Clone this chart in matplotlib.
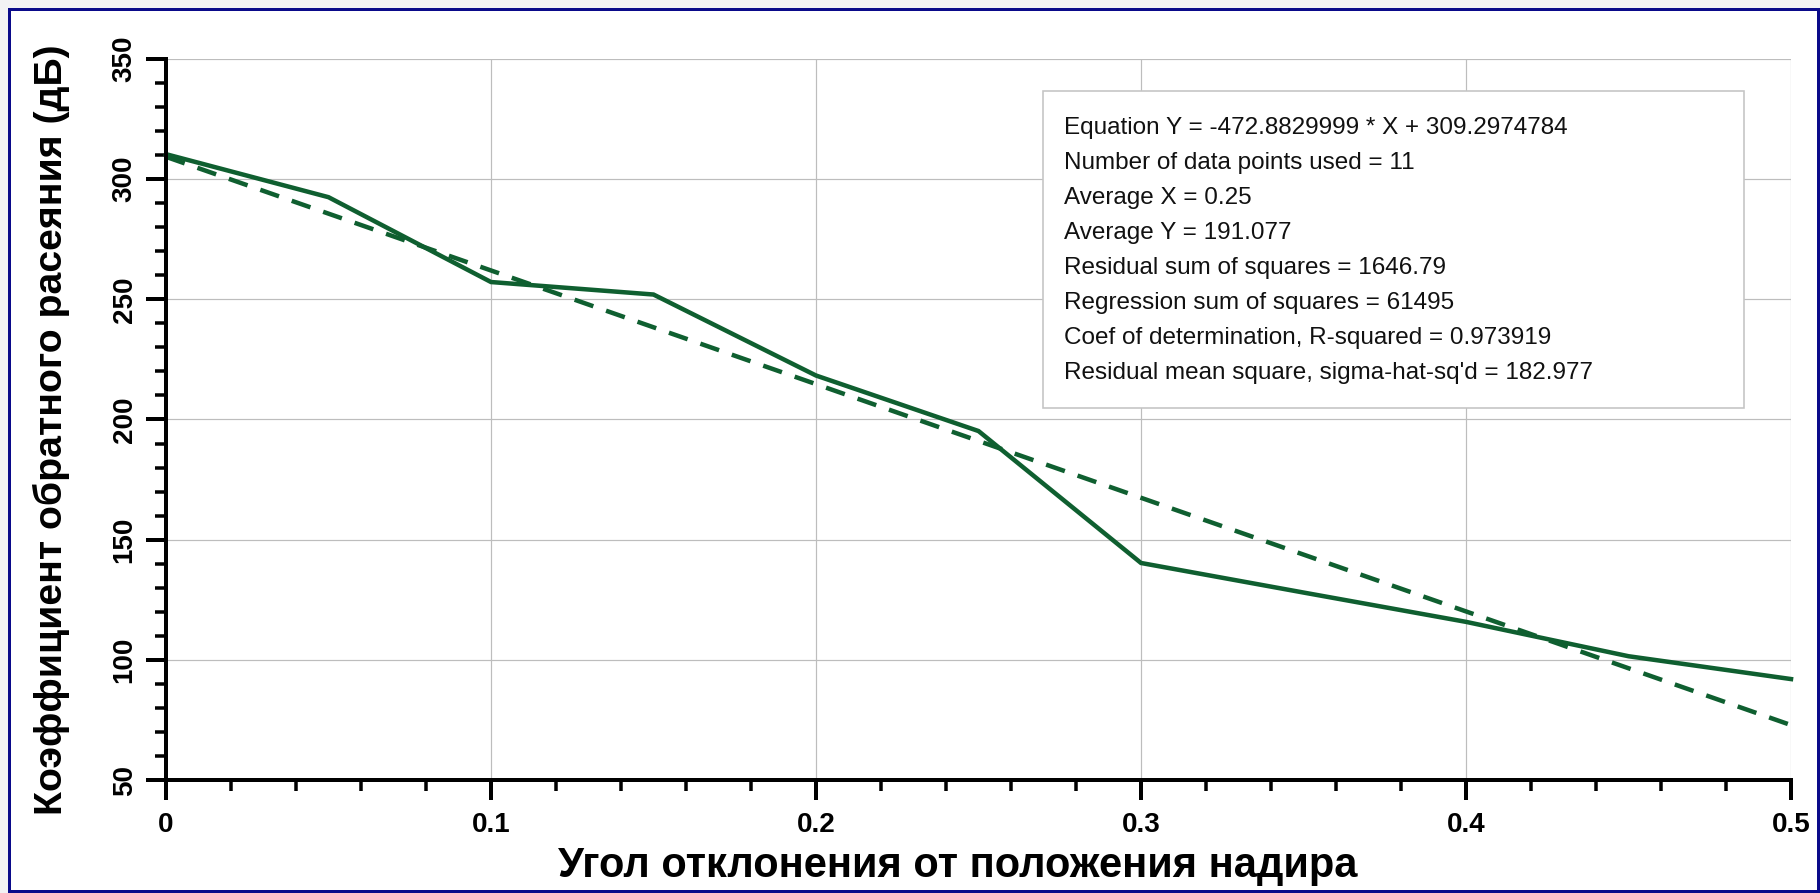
import matplotlib
matplotlib.use('Agg')
import matplotlib.pyplot as plt
from matplotlib.patches import Rectangle
from matplotlib.ticker import MultipleLocator
import numpy as np

# ---- data ----
x_vals = [0.0, 0.05, 0.10, 0.15, 0.20, 0.25, 0.30, 0.35, 0.40, 0.45, 0.50]
y_vals = [310.4, 292.5, 257.2, 252.0, 218.3, 195.2, 140.3, 128.0, 115.8, 101.5, 92.0]
fit_slope = -472.8829999
fit_intercept = 309.2974784
fit_x = [0.0, 0.5]

x_ticks = [0.0, 0.1, 0.2, 0.3, 0.4, 0.5]
x_tick_labels = ['0', '0.1', '0.2', '0.3', '0.4', '0.5']
y_ticks = [50, 100, 150, 200, 250, 300, 350]
y_tick_labels = ['50', '100', '150', '200', '250', '300', '350']

x_label = 'Угол отклонения от положения надира'
y_label = 'Коэффициент обратного расеяния (дБ)'

stats_lines = [
    'Equation Y = -472.8829999 * X + 309.2974784',
    'Number of data points used = 11',
    'Average X = 0.25',
    'Average Y = 191.077',
    'Residual sum of squares = 1646.79',
    'Regression sum of squares = 61495',
    'Coef of determination, R-squared = 0.973919',
    "Residual mean square, sigma-hat-sq'd = 182.977",
]

# ---- style ----
plt.rcParams['font.family'] = ['Liberation Sans', 'DejaVu Sans']
W, H = 1820, 893
DPI = 100
line_color = '#0f5f30'
px = 72.0 / DPI  # points per pixel

fig = plt.figure(figsize=(W / DPI, H / DPI), dpi=DPI, facecolor='#f2f2f4')

# outer slide frame
frame = Rectangle((9 / W, 1 - 891 / H), (1818 - 9) / W, (891 - 9) / H,
                  transform=fig.transFigure, facecolor='white',
                  edgecolor='#0a0a8a', linewidth=3 * px, zorder=-5)
fig.patches.append(frame)

ax = fig.add_axes([166 / W, 1 - 780 / H, (1791 - 166) / W, (780 - 59) / H])
ax.set_zorder(2)
ax.set_facecolor('white')
ax.set_xlim(0, 0.5)
ax.set_ylim(50, 350)

ax.set_xticks(x_ticks)
ax.set_xticklabels(x_tick_labels, fontsize=20, fontweight='bold')
ax.set_yticks(y_ticks)
ax.set_yticklabels(y_tick_labels, fontsize=20, fontweight='bold',
                   rotation=90, va='center')
ax.xaxis.set_minor_locator(MultipleLocator(0.02))
ax.yaxis.set_minor_locator(MultipleLocator(10))

ax.grid(True, which='major', color='#bdbdbd', linewidth=1.2 * px, zorder=0)
ax.set_axisbelow(True)

for s in ['top', 'right']:
    ax.spines[s].set_visible(False)
for s in ['left', 'bottom']:
    ax.spines[s].set_linewidth(4 * px)
    ax.spines[s].set_color('black')
    ax.spines[s].set_zorder(5)

ax.tick_params(axis='both', which='major', direction='out', length=20 * px,
               width=4 * px, color='black')
ax.tick_params(axis='both', which='minor', direction='out', length=11 * px,
               width=3.5 * px, color='black')
ax.tick_params(axis='x', which='major', pad=9)
ax.tick_params(axis='y', which='major', pad=6)

# data line and fit line
ax.plot(x_vals, y_vals, color=line_color, linewidth=4.5 * px, solid_joinstyle='miter',
        zorder=3, clip_on=False)
fit_y = [fit_slope * xv + fit_intercept for xv in fit_x]
ax.plot(fit_x, fit_y, color=line_color, linewidth=4.5 * px, linestyle=(0, (4.4, 3.0)),
        zorder=3)

# axis labels
fig.text(958 / W, 1 - 866 / H, x_label, ha='center', va='center',
         fontsize=30, fontweight='bold')
fig.text(51 / W, 1 - 430 / H, y_label, ha='center', va='center',
         rotation=90, fontsize=28.3, fontweight='bold')

# stats box (drawn inside the axes, above the data)
bx0, by0, bx1, by1 = 1043, 91, 1744, 408
box = Rectangle((bx0 / W, 1 - by1 / H), (bx1 - bx0) / W, (by1 - by0) / H,
                facecolor='white', edgecolor='#c4c4c4', linewidth=1.6 * px, zorder=10)
ax.add_artist(box)
box.set_transform(fig.transFigure)
y0 = 128
dy = 35
for i, line in enumerate(stats_lines):
    ax.text(1064 / W, 1 - (y0 + i * dy) / H, line, ha='left', va='center',
            fontsize=17.5, color='#111111', transform=fig.transFigure, zorder=11)

fig.savefig('out.png', dpi=DPI, facecolor=fig.get_facecolor())
